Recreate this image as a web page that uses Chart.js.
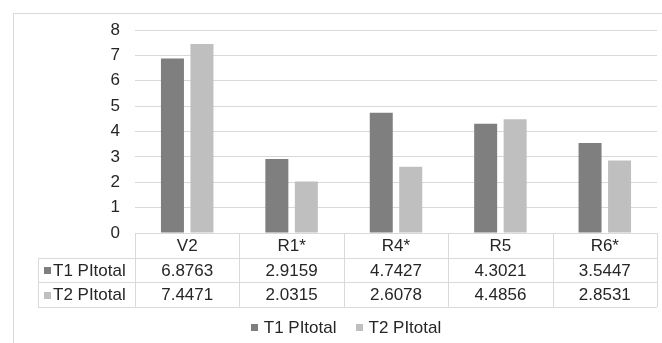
<!DOCTYPE html>
<html>
<head>
<meta charset="utf-8">
<script src="https://cdn.jsdelivr.net/npm/chart.js@4"></script>
<style>
  html, body { margin: 0; padding: 0; background: #ffffff; }
  #wrap { width: 662px; height: 343px; }
</style>
</head>
<body>
<div id="wrap"><canvas id="c" width="662" height="343"></canvas></div>
<script>
const categories = ['V2', 'R1*', 'R4*', 'R5', 'R6*'];
const seriesNames = ['T1 PItotal', 'T2 PItotal'];
const t1Values = [6.8763, 2.9159, 4.7427, 4.3021, 3.5447];
const t2Values = [7.4471, 2.0315, 2.6078, 4.4856, 2.8531];
const yMin = 0;
const yMax = 8;
const yStep = 1;

const seriesColors = ['#7f7f7f', '#bfbfbf'];
const textColor = '#262626';
const lineColor = '#d9d9d9';
const FONT = '"Liberation Sans", Arial, sans-serif';

const tablePlugin = {
  id: 'tablePlugin',
  beforeDraw(chart) {
    const ctx = chart.ctx;
    ctx.save();
    ctx.fillStyle = '#ffffff';
    ctx.fillRect(0, 0, chart.width, chart.height);
    // outer chart frame
    ctx.strokeStyle = lineColor;
    ctx.lineWidth = 1;
    ctx.beginPath();
    ctx.moveTo(13.5, chart.height);
    ctx.lineTo(13.5, 13.5);
    ctx.lineTo(chart.width, 13.5);
    ctx.stroke();
    ctx.restore();
  },
  afterDraw(chart) {
    const ctx = chart.ctx;
    const ca = chart.chartArea;
    const xs = chart.scales.x;
    const n = categories.length;
    const colW = (ca.right - ca.left) / n;
    const rowH = 24.7;
    const top = ca.bottom;
    const r1 = top + rowH;
    const r2 = r1 + rowH;
    const r3 = r2 + rowH;
    const labelLeft = 38;
    const datasets = chart.data.datasets;

    ctx.save();
    ctx.strokeStyle = lineColor;
    ctx.lineWidth = 1;
    ctx.beginPath();
    ctx.moveTo(ca.left, Math.round(top) + 0.5); ctx.lineTo(ca.right, Math.round(top) + 0.5);
    [r1, r2, r3].forEach(y => {
      ctx.moveTo(labelLeft, Math.round(y) + 0.5);
      ctx.lineTo(ca.right, Math.round(y) + 0.5);
    });
    ctx.moveTo(labelLeft + 0.5, Math.round(r1)); ctx.lineTo(labelLeft + 0.5, Math.round(r3));
    for (let i = 0; i <= n; i++) {
      const x = Math.round(ca.left + i * colW) + 0.5;
      ctx.moveTo(x, Math.round(top));
      ctx.lineTo(x, Math.round(r3));
    }
    ctx.stroke();

    ctx.fillStyle = textColor;
    ctx.font = '17px ' + FONT;
    ctx.textAlign = 'center';
    ctx.textBaseline = 'middle';
    categories.forEach((c, i) => {
      const cx = xs.getPixelForValue(i);
      ctx.fillText(c, cx, (top + r1) / 2 + 1);
    });
    const rows = [[r1, r2], [r2, r3]];
    datasets.forEach((ds, di) => {
      const cy = (rows[di][0] + rows[di][1]) / 2 + 1;
      ds.data.forEach((v, i) => {
        const cx = xs.getPixelForValue(i);
        ctx.fillStyle = textColor;
        ctx.textAlign = 'center';
        ctx.fillText(v.toFixed(4), cx, cy);
      });
      ctx.fillStyle = ds.backgroundColor;
      ctx.fillRect(44, Math.round(cy - 4), 7, 7);
      ctx.fillStyle = textColor;
      ctx.textAlign = 'left';
      ctx.fillText(ds.label, 53, cy);
    });

    const legendY = 327;
    const sq = 7, gap = 6, spacing = 19;
    ctx.font = '17px ' + FONT;
    const widths = datasets.map(ds => sq + gap + ctx.measureText(ds.label).width);
    const total = widths.reduce((a, b) => a + b, 0) + spacing * (datasets.length - 1);
    let x = 346 - total / 2;
    datasets.forEach((ds, di) => {
      ctx.fillStyle = ds.backgroundColor;
      ctx.fillRect(Math.round(x), Math.round(legendY - 3.5), sq, sq);
      ctx.fillStyle = textColor;
      ctx.textAlign = 'left';
      ctx.fillText(ds.label, x + sq + gap, legendY + 1);
      x += widths[di] + spacing;
    });
    ctx.restore();
  }
};

new Chart(document.getElementById('c'), {
  type: 'bar',
  data: {
    labels: categories,
    datasets: [
      { label: seriesNames[0], data: t1Values, backgroundColor: seriesColors[0] },
      { label: seriesNames[1], data: t2Values, backgroundColor: seriesColors[1] }
    ]
  },
  options: {
    responsive: false,
    animation: false,
    devicePixelRatio: 1,
    layout: { padding: { top: 30, right: 5, bottom: 110, left: 0 } },
    plugins: { legend: { display: false }, tooltip: { enabled: false } },
    datasets: { bar: { categoryPercentage: 0.565, barPercentage: 0.78 } },
    scales: {
      x: { display: false },
      y: {
        min: yMin, max: yMax,
        ticks: { stepSize: yStep, padding: 15, color: textColor, font: { family: FONT, size: 17 } },
        grid: { color: lineColor, drawTicks: false },
        border: { display: false },
        afterFit(scale) { scale.width = 135; }
      }
    }
  },
  plugins: [tablePlugin]
});
</script>
</body>
</html>
